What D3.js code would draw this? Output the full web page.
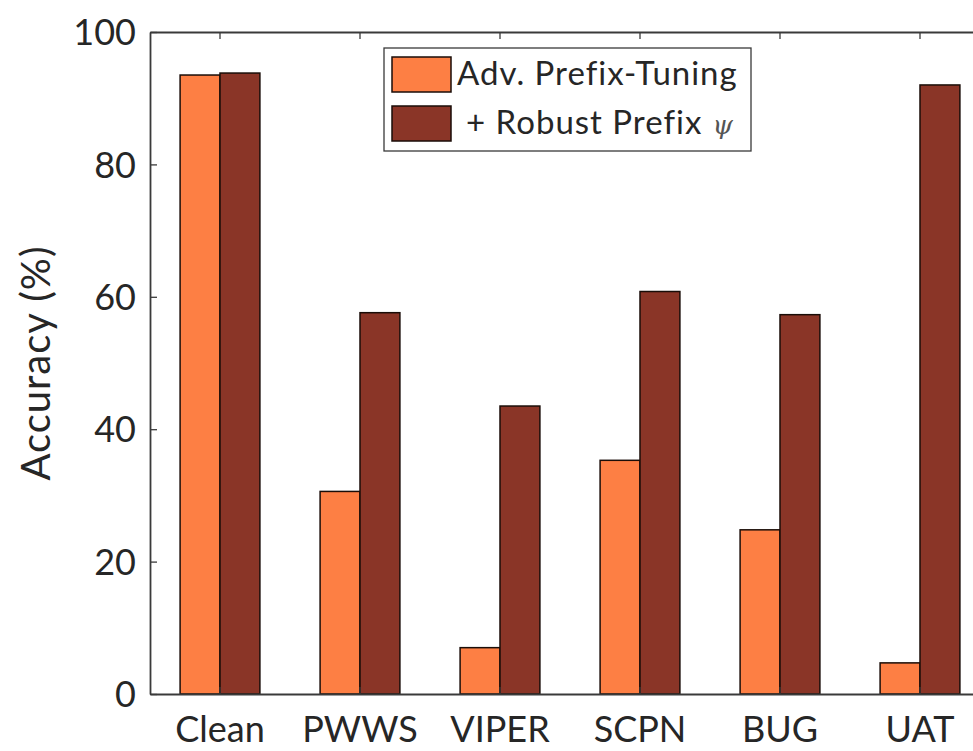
<!DOCTYPE html>
<html>
<head>
<meta charset="utf-8">
<script src="https://cdn.jsdelivr.net/npm/d3@7"></script>
<style>
  body { margin: 0; background: #fff; }
  svg text { font-family: Lato, "Open Sans", sans-serif; fill: #262626; }
</style>
</head>
<body>
<div id="chart"></div>
<script>
// Chart data
var categories = ["Clean", "PWWS", "VIPER", "SCPN", "BUG", "UAT"];
var seriesNames = ["Adv. Prefix-Tuning", "+ Robust Prefix"];
var advPrefix = [93.5, 30.6, 7.0, 35.3, 24.8, 4.7];
var robustPrefix = [93.8, 57.6, 43.5, 60.8, 57.3, 92.0];
var yTicks = [0, 20, 40, 60, 80, 100];
var colors = ["#fd7f44", "#8a3527"];

var svgWidth = 973, svgHeight = 751;
var margin = { top: 32, right: -17, bottom: 57, left: 150 };
var chartWidth = svgWidth - margin.left - margin.right;
var chartHeight = svgHeight - margin.top - margin.bottom;

var svg = d3.select("#chart").append("svg")
    .attr("width", svgWidth)
    .attr("height", svgHeight);

var chartGroup = svg.append("g")
    .attr("transform", `translate(${margin.left}, ${margin.top})`);

// scales
var x0 = d3.scaleBand()
    .domain(categories)
    .range([0, chartWidth])
    .paddingInner(0.43)
    .paddingOuter(0.215);

var x1 = d3.scaleBand()
    .domain([0, 1])
    .range([0, x0.bandwidth()]);

var y = d3.scaleLinear()
    .domain([0, 100])
    .range([chartHeight, 0]);

var rows = categories.map((c, i) => ({ cat: c, vals: [advPrefix[i], robustPrefix[i]] }));

// bars
var groups = chartGroup.selectAll("g.grp")
    .data(rows)
    .enter()
    .append("g")
    .attr("class", "grp")
    .attr("transform", d => `translate(${x0(d.cat)},0)`);

groups.selectAll("rect")
    .data(d => d.vals.map((v, k) => ({ k: k, v: v })))
    .enter()
    .append("rect")
    .attr("x", d => x1(d.k))
    .attr("width", x1.bandwidth())
    .attr("y", d => y(d.v))
    .attr("height", d => chartHeight - y(d.v))
    .attr("fill", d => colors[d.k])
    .attr("stroke", "#1a0d08")
    .attr("stroke-width", 1.5);

// axes (box style with inward ticks)
var axisColor = "#3a3a3a";

var leftAxis = d3.axisLeft(y).tickValues(yTicks).tickSizeInner(-7).tickSizeOuter(0).tickPadding(14);
var bottomAxis = d3.axisBottom(x0).tickSizeInner(-7).tickSizeOuter(0).tickPadding(22);
var topAxis = d3.axisTop(x0).tickSizeInner(-7).tickSizeOuter(0).tickFormat("");

var gl = chartGroup.append("g").call(leftAxis);
var gb = chartGroup.append("g").attr("transform", `translate(0, ${chartHeight})`).call(bottomAxis);
var gt = chartGroup.append("g").call(topAxis);

[gl, gb, gt].forEach(function(g) {
    g.select(".domain").attr("stroke", axisColor).attr("stroke-width", 1.8);
    g.selectAll(".tick line").attr("stroke", axisColor).attr("stroke-width", 1.3);
    g.selectAll(".tick text").style("font-size", "36px").attr("fill", "#262626");
});
gb.selectAll(".tick text").attr("dy", "0.71em");
gl.selectAll(".tick text").attr("dy", "0.35em");

// y label
chartGroup.append("text")
    .attr("transform", "rotate(-90)")
    .attr("x", -chartHeight / 2)
    .attr("y", -margin.left + 50)
    .attr("text-anchor", "middle")
    .style("font-size", "40px")
    .style("letter-spacing", "1px")
    .text("Accuracy (%)");

// legend
var legend = chartGroup.append("g")
    .attr("transform", "translate(234, 16)");

legend.append("rect")
    .attr("width", 367)
    .attr("height", 103)
    .attr("fill", "#fff")
    .attr("stroke", axisColor)
    .attr("stroke-width", 1.3);

var items = legend.selectAll("g.item")
    .data(seriesNames)
    .enter()
    .append("g")
    .attr("class", "item")
    .attr("transform", (d, i) => `translate(8, ${9 + i * 49})`);

items.append("rect")
    .attr("width", 59)
    .attr("height", 35)
    .attr("fill", (d, i) => colors[i])
    .attr("stroke", "#1a0d08")
    .attr("stroke-width", 1.5);

var labels = items.append("text")
    .attr("x", (d, i) => i === 0 ? 65 : 74)
    .attr("y", 28)
    .style("font-size", "33px")
    .style("letter-spacing", "1px")
    .text(d => d);

labels.filter((d, i) => i === 1)
    .append("tspan")
    .attr("dx", 10)
    .style("font-family", "'DejaVu Serif', serif")
    .style("font-style", "italic")
    .style("font-size", "26px")
    .attr("fill", "#555")
    .text("\u03c8");
</script>
</body>
</html>
